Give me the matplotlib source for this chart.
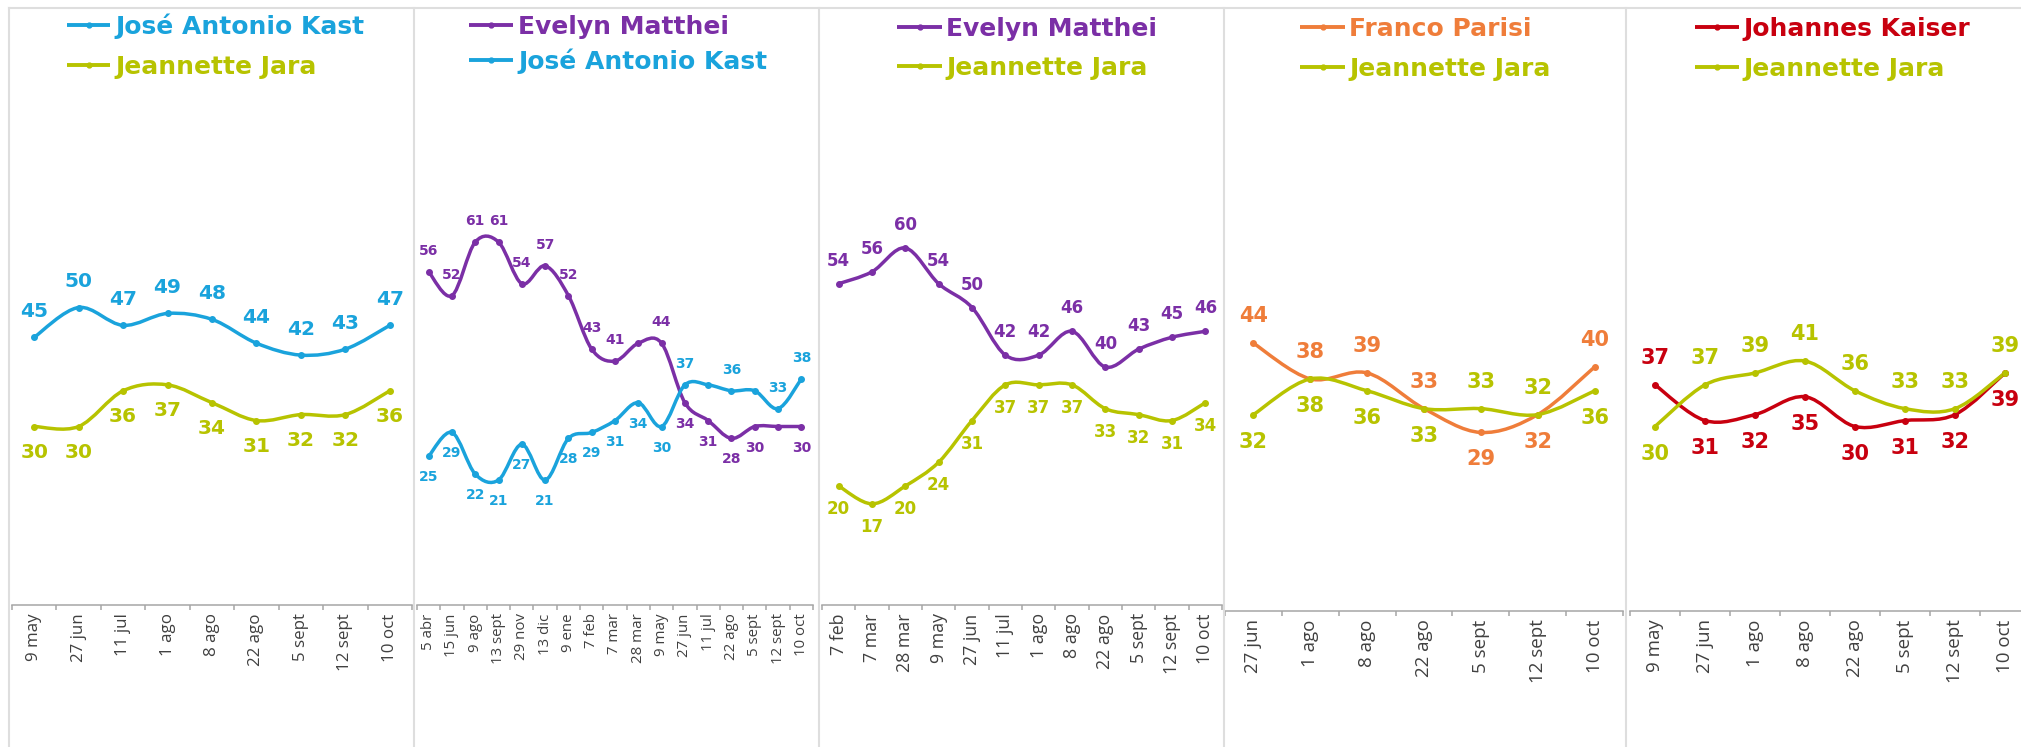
import matplotlib
matplotlib.use("Agg")
import matplotlib.pyplot as plt
from matplotlib.path import Path
from matplotlib.patches import PathPatch
from matplotlib.lines import Line2D
import numpy as np

# ---------------- data ----------------
p1_dates = ["9 may", "27 jun", "11 jul", "1 ago", "8 ago", "22 ago", "5 sept", "12 sept", "10 oct"]
p1_kast = [45, 50, 47, 49, 48, 44, 42, 43, 47]
p1_jara = [30, 30, 36, 37, 34, 31, 32, 32, 36]

p2_dates = ["5 abr", "15 jun", "9 ago", "13 sept", "29 nov", "13 dic", "9 ene", "7 feb", "7 mar",
            "28 mar", "9 may", "27 jun", "11 jul", "22 ago", "5 sept", "12 sept", "10 oct"]
p2_matthei = [56, 52, 61, 61, 54, 57, 52, 43, 41, 44, 44, 34, 31, 28, 30, 30, 30]
p2_kast = [25, 29, 22, 21, 27, 21, 28, 29, 31, 34, 30, 37, 37, 36, 36, 33, 38]
p2_matthei_unlabeled = [9, 15]
p2_kast_unlabeled = [12, 14]

p3_dates = ["7 feb", "7 mar", "28 mar", "9 may", "27 jun", "11 jul", "1 ago", "8 ago",
            "22 ago", "5 sept", "12 sept", "10 oct"]
p3_matthei = [54, 56, 60, 54, 50, 42, 42, 46, 40, 43, 45, 46]
p3_jara = [20, 17, 20, 24, 31, 37, 37, 37, 33, 32, 31, 34]

p4_dates = ["27 jun", "1 ago", "8 ago", "22 ago", "5 sept", "12 sept", "10 oct"]
p4_parisi = [44, 38, 39, 33, 29, 32, 40]
p4_jara = [32, 38, 36, 33, 33, 32, 36]

p5_dates = ["9 may", "27 jun", "1 ago", "8 ago", "22 ago", "5 sept", "12 sept", "10 oct"]
p5_kaiser = [37, 31, 32, 35, 30, 31, 32, 39]
p5_jara = [30, 37, 39, 41, 36, 33, 33, 39]

# ---------------- style ----------------
KAST = "#1AA3DC"
JARA = "#B7C300"
MATTHEI = "#7B2FA6"
PARISI = "#EF7D3A"
KAISER = "#C8000F"
AXIS = "#a6a6a6"
DIVIDER = "#dedede"
TICKCOL = "#404040"
LABEL_FONT = ["DejaVu Sans"]
TICK_FONT = ["Open Sans", "DejaVu Sans"]

W, H = 2021, 747
fig = plt.figure(figsize=(W / 100, H / 100), dpi=100)
fig.patch.set_facecolor("white")


def fx(px):
    return px / W


def fy(py):
    return 1 - py / H


# panel dividers
for xd in [9, 414, 819, 1224, 1626]:
    fig.add_artist(Line2D([fx(xd), fx(xd)], [fy(8), fy(H + 5)], color=DIVIDER, lw=1.5))
fig.add_artist(Line2D([fx(9), fx(W + 5)], [fy(8), fy(8)], color=DIVIDER, lw=1.5))


def smooth_path(xs, ys):
    pts = np.column_stack([xs, ys]).astype(float)
    n = len(pts)
    verts = [pts[0]]
    codes = [Path.MOVETO]
    for i in range(n - 1):
        p0 = pts[i - 1] if i > 0 else pts[i]
        p1 = pts[i]
        p2 = pts[i + 1]
        p3 = pts[i + 2] if i + 2 < n else pts[i + 1]
        c1 = p1 + (p2 - p0) / 6.0
        c2 = p2 - (p3 - p1) / 6.0
        verts += [c1, c2, p2]
        codes += [Path.CURVE4] * 3
    return Path(verts, codes)


SCALE = 5.95  # px per unit
ZERO_PX = 605

panels = [
    dict(dates=p1_dates,
         series=[("José Antonio Kast", p1_kast, KAST, []), ("Jeannette Jara", p1_jara, JARA, [])],
         ax_px=(12, 412), bottom=605, lab_fs=14.5, tick_fs=12.2, off=26,
         leg_rows=(25, 65), leg_x=(67, 110, 115)),
    dict(dates=p2_dates,
         series=[("Evelyn Matthei", p2_matthei, MATTHEI, p2_matthei_unlabeled),
                 ("José Antonio Kast", p2_kast, KAST, p2_kast_unlabeled)],
         ax_px=(417, 813), bottom=605, lab_fs=10, tick_fs=10.8, off=21,
         leg_rows=(25, 60), leg_x=(469, 513, 518)),
    dict(dates=p3_dates,
         series=[("Evelyn Matthei", p3_matthei, MATTHEI, []), ("Jeannette Jara", p3_jara, JARA, [])],
         ax_px=(822, 1222), bottom=605, lab_fs=12, tick_fs=12.8, off=23,
         leg_rows=(27, 66), leg_x=(897, 942, 946)),
    dict(dates=p4_dates,
         series=[("Franco Parisi", p4_parisi, PARISI, []), ("Jeannette Jara", p4_jara, JARA, [])],
         ax_px=(1225, 1623), bottom=611, lab_fs=15, tick_fs=13.5, off=27,
         leg_rows=(27, 67), leg_x=(1300, 1345, 1349)),
    dict(dates=p5_dates,
         series=[("Johannes Kaiser", p5_kaiser, KAISER, []), ("Jeannette Jara", p5_jara, JARA, [])],
         ax_px=(1630, 2030), bottom=611, lab_fs=15, tick_fs=13.5, off=27,
         leg_rows=(27, 67), leg_x=(1695, 1739, 1743)),
]

for p in panels:
    x0, x1 = p["ax_px"]
    b = p["bottom"]
    top = 10
    ax = fig.add_axes([fx(x0), fy(b), (x1 - x0) / W, (b - top) / H])
    ax.patch.set_alpha(0)
    n = len(p["dates"])
    xs = np.arange(n)
    ax.set_xlim(-0.5, n - 0.5)
    ax.set_ylim(-(b - ZERO_PX) / SCALE, (ZERO_PX - top) / SCALE)
    for s in ["left", "right", "top"]:
        ax.spines[s].set_visible(False)
    ax.spines["bottom"].set_color(AXIS)
    ax.spines["bottom"].set_linewidth(1.1)
    ax.set_yticks([])
    ax.set_xticks(xs)
    ax.set_xticklabels(p["dates"], rotation=90, fontsize=p["tick_fs"],
                       color=TICKCOL, family=TICK_FONT)
    ax.set_xticks(np.arange(n + 1) - 0.5, minor=True)
    ax.tick_params(axis="x", which="major", length=0, pad=6)
    ax.tick_params(axis="x", which="minor", length=3.8, width=1.1, color=AXIS, direction="out")

    (n_a, va_, c_a, hid_a), (n_b, vb_, c_b, hid_b) = p["series"]
    # decide which series gets label above at each point
    a_above = []
    prev = True
    for i in range(n):
        if va_[i] > vb_[i]:
            prev = True
        elif va_[i] < vb_[i]:
            prev = False
        a_above.append(prev)

    for k, (name, vals, col, hidden) in enumerate(p["series"]):
        path = smooth_path(xs, vals)
        ax.add_patch(PathPatch(path, fill=False, edgecolor=col, lw=2.5,
                               capstyle="round", joinstyle="round", zorder=3))
        ax.plot(xs, vals, "o", ms=4, color=col, mec=col, zorder=4)
        for i, v in enumerate(vals):
            if i in hidden:
                continue
            above = a_above[i] if k == 0 else not a_above[i]
            dy = p["off"] if above else -p["off"]
            ax.annotate(str(v), (i, v), xytext=(0, dy), textcoords="offset pixels",
                        ha="center", va="center", fontsize=p["lab_fs"], fontweight="bold",
                        color=col, family=LABEL_FONT, annotation_clip=False, zorder=5)

    # legend
    lx0, lx1, tx = p["leg_x"]
    for (name, vals, col, hidden), ry in zip(p["series"], p["leg_rows"]):
        fig.add_artist(Line2D([fx(lx0), fx(lx1)], [fy(ry), fy(ry)], color=col, lw=2.8,
                              solid_capstyle="butt"))
        fig.add_artist(Line2D([fx((lx0 + lx1) / 2)], [fy(ry)], marker="o", ms=3.5,
                              color=col, mec=col, lw=0))
        fig.text(fx(tx), fy(ry + 9), name, fontsize=18, fontweight="bold", color=col,
                 family=LABEL_FONT, ha="left", va="baseline")

fig.savefig("out.png", dpi=100, facecolor="white")
